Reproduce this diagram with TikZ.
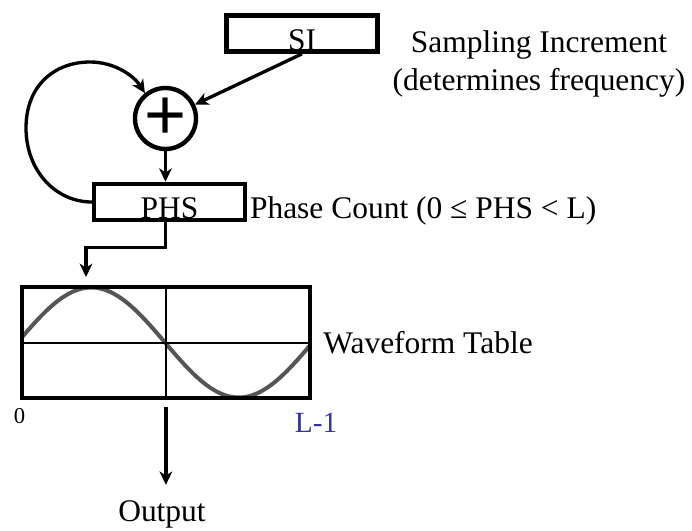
\documentclass[tikz,border=0pt]{standalone}
\usepackage{fontspec}
\setmainfont{Liberation Serif}
\setsansfont{Liberation Sans}
\usetikzlibrary{arrows.meta,backgrounds}
\definecolor{lblue}{RGB}{51,51,153}
\definecolor{wavegray}{RGB}{85,85,85}

\begin{document}
\begin{tikzpicture}[x=0.75pt, y=-0.75pt, font=\fontsize{23.6}{28.3}\selectfont,
    reg/.style={draw, line width=3.4pt, minimum width=113pt, minimum height=27pt,
        inner ysep=0.75pt, text height=25.5pt, text depth=0pt},
    adder/.style={draw, circle, line width=3.3pt, minimum size=45.75pt, inner sep=0pt,
        font=\sffamily\fontsize{54}{54}\selectfont, text depth=-6.2pt},
    conn/.style={-{Stealth[length=10pt, width=9.5pt, inset=3pt]}, line width=2.5pt}]
    \useasboundingbox (0,0) rectangle (692,531);
    \node[reg] (si) at (302,33.6) {SI};
    \node[adder] (sum) at (165.5,118.5) {+};
    \node[reg] (phs) at (169.5,202) {PHS};
    \node[draw, line width=3pt, minimum width=215.8pt, minimum height=83pt, inner sep=0pt, outer sep=0pt] (table) at (165.9,342.5) {};
    \begin{scope}[on background layer]
        \draw[wavegray, line width=3pt] plot[domain=22:310, samples=80, smooth] (\x, {342.5 - 55*sin(1.22034*(\x-17.5))});
        \draw[line width=1.5pt] (table.west) -- (table.east);
        \draw[line width=1pt] (table.north) -- (table.south);
    \end{scope}
    % labels
    \node[anchor=base, align=center] (sinote) at (539,90.7) {Sampling Increment\\(determines frequency)};
    \node[anchor=base west, inner sep=0pt] (phsnote) at ([xshift=2pt]phs.base east) {Phase Count (0 ≤ PHS < L)};
    \node[anchor=west, inner sep=0pt] (tablenote) at ([xshift=10pt]table.east) {Waveform Table};
    \node[anchor=base, font=\fontsize{17}{17}\selectfont] (zero) at (19.5,423) {0};
    \node[anchor=base, text=lblue, font=\fontsize{22}{22}\selectfont] (last) at (316,432) {L-1};
    \node[anchor=base] (output) at (162,521.7) {Output};
    \coordinate (tap) at (86,277);
    % connectors
    \draw[conn] (si.south) -- (sum);
    \draw[conn] (sum) -- (sum |- phs.north);
    \draw[conn] (phs.west) .. controls (55,202) and (26,170) .. (26,128) .. controls (26,85) and (55,62) .. (90,62) .. controls (115,62) and (134,76) .. (sum.129);
    \draw[conn] (sum |- phs.south) -- ++(0,25) -| (tap);
    \draw[conn, shorten <=6.7pt, shorten >=8.5pt] (table.south) -- (table.south |- output.north);
\end{tikzpicture}
\end{document}
